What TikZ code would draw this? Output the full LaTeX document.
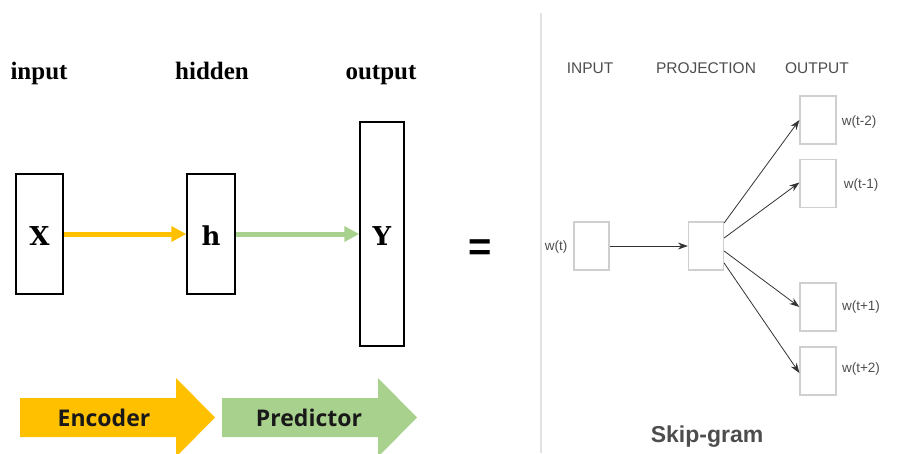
\documentclass[tikz,border=0pt]{standalone}
\usepackage{fontspec}
\setmainfont{Liberation Serif}
\setsansfont{Liberation Sans}
\newfontfamily\varfont{DejaVu Serif}
\newfontfamily\blockfont{Open Sans}
\usetikzlibrary{arrows.meta}
\definecolor{encorange}{HTML}{FFC000}
\definecolor{predgreen}{HTML}{A9D18E}
\definecolor{sgtext}{HTML}{4D4D4D}
\definecolor{sgbox}{HTML}{CFCFCF}
\definecolor{sepline}{HTML}{E2E2E2}
\tikzset{
  layerlbl/.style={font=\fontsize{25}{25}\selectfont\bfseries, anchor=base},
  nnbox/.style={draw=black, line width=1.5pt, inner sep=0pt},
  varlbl/.style={font=\fontsize{26}{26}\selectfont\varfont\bfseries},
  sgbox/.style={draw=sgbox, line width=1.2pt, minimum width=35pt, minimum height=48pt, inner sep=0pt},
  sghead/.style={font=\fontsize{15.5}{15.5}\selectfont\sffamily, text=sgtext},
  sgword/.style={font=\fontsize{13.5}{13.5}\selectfont\sffamily, text=sgtext},
  sgarrow/.style={draw=black!80, line width=0.8pt, -{Stealth[length=10pt,width=7pt]}},
  blocktext/.style={font=\fontsize{23}{23}\selectfont\blockfont\bfseries, text=black!90},
}
\begin{document}
\begin{tikzpicture}[x=1pt,y=-1pt]
\useasboundingbox (0,0) rectangle (916,453);
% left: layer labels
\node[layerlbl] (linput) at (39,79) {input};
\node[layerlbl] (lhidden) at (212,79) {hidden};
\node[layerlbl] (loutput) at (381,79) {output};
% boxes
\node[nnbox, minimum width=47pt, minimum height=120pt] (X) at (39.5,234) {};
\node[nnbox, minimum width=48pt, minimum height=120pt] (H) at (211,234) {};
\node[nnbox, minimum width=44pt, minimum height=224pt] (Y) at (382,234) {};
\node[varlbl] (Xl) at (39.5,236) {X};
\node[varlbl] (Hl) at (211,236) {h};
\node[varlbl] (Yl) at (382,236) {Y};
\draw[encorange, line width=5pt, -{Triangle[length=15pt,width=15pt]}] (X.east) -- (H.west);
\draw[predgreen, line width=5pt, -{Triangle[length=15pt,width=15pt]}] (H.east) -- (Y.west);
% block arrows
\fill[encorange] (20,398) -- (176,398) -- (176,378) -- (215,417.5) -- (176,457) -- (176,437) -- (20,437) -- cycle;
\fill[predgreen] (222,398) -- (378,398) -- (378,378) -- (417,417.5) -- (378,457) -- (378,437) -- (222,437) -- cycle;
\node[blocktext] (enc) at (104,418) {Encoder};
\node[blocktext] (pred) at (309,418) {Predictor};
% equals
\node[font=\fontsize{40}{40}\selectfont\sffamily\bfseries] (eq) at (480,250) {=};
% separator
\coordinate (septop) at (541,13);
\coordinate (sepbot) at (541,453);
\draw[sepline, line width=1.2pt] (septop) -- (sepbot);
% right: skip-gram
\node[sghead] (sin) at (590,68) {INPUT};
\node[sghead] (sproj) at (706,68) {PROJECTION};
\node[sghead] (sout) at (817,68) {OUTPUT};
\node[sgbox] (wt) at (591.5,246) {};
\node[sgbox] (proj) at (706,246) {};
\node[sgbox, minimum width=36pt] (o1) at (818,120) {};
\node[sgbox, minimum width=36pt] (o2) at (818,183.5) {};
\node[sgbox, minimum width=36pt] (o3) at (818,307) {};
\node[sgbox, minimum width=36pt] (o4) at (818,371) {};
\node[sgword] (wtl) at (556,247) {w(t)};
\node[sgword] (o1l) at (859,122) {w(t-2)};
\node[sgword] (o2l) at (861,185) {w(t-1)};
\node[sgword] (o3l) at (861,307) {w(t+1)};
\node[sgword] (o4l) at (861,369) {w(t+2)};
\draw[sgarrow] (wt.east) -- (proj.west);
\draw[sgarrow] ([yshift=23pt]proj.east) -- (o1.west);
\draw[sgarrow] ([yshift=8pt]proj.east) -- ([yshift=1pt]o2.west);
\draw[sgarrow] ([yshift=-5pt]proj.east) -- (o3.west);
\draw[sgarrow] ([yshift=-17pt]proj.east) -- ([yshift=-2pt]o4.west);
\node[font=\fontsize{23}{23}\selectfont\sffamily\bfseries, text=sgtext] (sg) at (707,437) {Skip-gram};
\end{tikzpicture}
\end{document}
